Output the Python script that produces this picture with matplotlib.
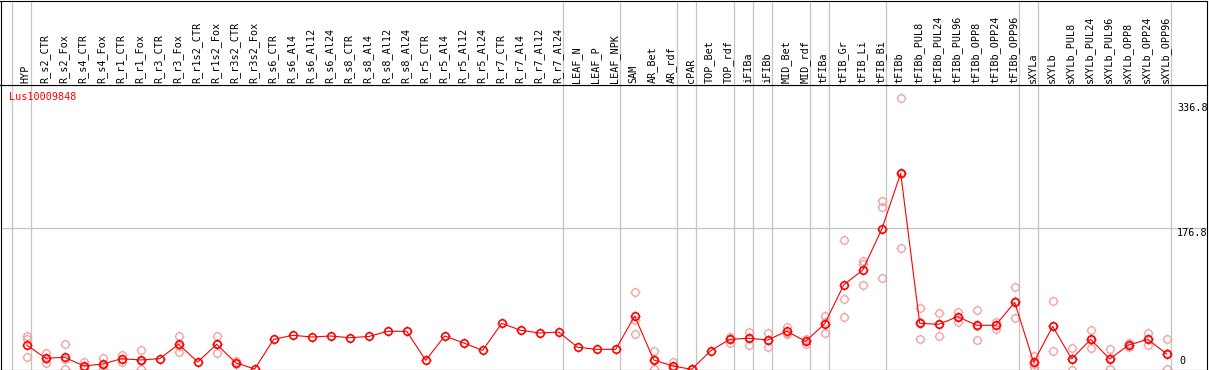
import matplotlib
matplotlib.use("Agg")
import matplotlib.pyplot as plt
from matplotlib.path import Path
import numpy as np

categories = ["HYP", "R_s2_CTR", "R_s2_Fox", "R_s4_CTR", "R_s4_Fox", "R_r1_CTR", "R_r1_Fox",
              "R_r3_CTR", "R_r3_Fox", "R_r1s2_CTR", "R_r1s2_Fox", "R_r3s2_CTR", "R_r3s2_Fox",
              "R_s6_CTR", "R_s6_Al4", "R_s6_Al12", "R_s6_Al24", "R_s8_CTR", "R_s8_Al4",
              "R_s8_Al12", "R_s8_Al24", "R_r5_CTR", "R_r5_Al4", "R_r5_Al12", "R_r5_Al24",
              "R_r7_CTR", "R_r7_Al4", "R_r7_Al12", "R_r7_Al24", "LEAF_N", "LEAF_P", "LEAF_NPK",
              "SAM", "AR_Bet", "AR_rdf", "cPAR", "TOP_Bet", "TOP_rdf", "iFIBa", "iFIBb",
              "MID_Bet", "MID_rdf", "tFIBa", "tFIB_Gr", "tFIB_Li", "tFIB_Bi", "tFIBb",
              "tFIBb_PUL8", "tFIBb_PUL24", "tFIBb_PUL96", "tFIBb_OPP8", "tFIBb_OPP24",
              "tFIBb_OPP96", "sXYLa", "sXYLb", "sXYLb_PUL8", "sXYLb_PUL24", "sXYLb_PUL96",
              "sXYLb_OPP8", "sXYLb_OPP24", "sXYLb_OPP96"]

group_sizes = [1, 28, 3, 3, 1, 2, 1, 1, 2, 1, 3, 7, 1, 7]

means = [33.2, 16.9, 18.1, 7.4, 9.8, 16.4, 14.8, 16.4, 34.1, 12.3, 34.1, 11.4, 3.7,
         40.2, 45.2, 43.1, 44.3, 42.2, 43.7, 50.1, 50.1, 14.4, 44.3, 35.7, 26.7,
         59.9, 51.3, 48.0, 49.2, 30.4, 27.9, 27.9,
         68.9, 14.8, 7.4, 3.3, 26.2, 40.2, 41.5, 39.4, 50.1, 37.8, 59.4,
         107.1, 125.5, 175.6, 244.6, 59.9, 58.7, 68.1, 57.5, 57.5, 85.8,
         11.9, 56.2, 16.0, 40.2, 16.0, 33.2, 40.2, 22.2]

replicates = [[44.7, 40.2, 18.1], [23.8, 11.4, 15.5], [34.5, 3.7, 16.1], [12.3, 5.0, 5.0],
              [16.9, 3.7, 8.8], [20.9, 12.7, 15.6], [26.7, 3.7, 14.0], [],
              [44.7, 25.0, 32.6], [], [44.7, 23.0, 34.6], [9.8, 13.0], [],
              [], [], [], [], [], [], [], [], [], [], [], [], [], [], [], [],
              [], [], [],
              [98.1, 64.0, 46.4], [25.5, 3.3, 15.5], [12.3, 5.0, 5.0], [3.3, 3.3], [],
              [43.4, 36.1, 41.0], [49.2, 33.6, 41.7], [48.0, 30.4, 39.8],
              [55.0, 46.8, 48.5], [41.0, 34.5, 37.9], [68.9, 47.6, 61.7],
              [162.5, 89.5, 67.3], [136.2, 107.4, 132.9], [210.5, 203.1, 115.3],
              [336.8, 153.0, 243.9], [78.4, 40.2, 61.1], [72.2, 44.7, 59.2],
              [74.2, 61.9, 68.2], [76.3, 39.0, 57.2], [61.9, 53.3, 57.3],
              [104.2, 66.1, 87.1], [19.7, 6.5, 9.5], [87.0, 25.5, 56.1],
              [29.2, 2.5, 16.3], [51.3, 29.5, 39.8], [27.9, 3.3, 16.8],
              [35.4, 31.0, 33.2], [47.6, 32.9, 40.1], [40.2, 3.3, 23.1]]

gene = "Lus10009848"
ytick_vals = [336.8, 176.8, 0]

# ---- figure geometry ----
W, H = 1209, 370
DPI = 100
fig = plt.figure(figsize=(W / DPI, H / DPI), dpi=DPI)
FONT = "DejaVu Sans Mono"
FS = 7.3
GRAY = "#c4c4c4"
RED = "#ff0000"
PINK = "#f0a0a0"

def fx(px):
    return px / W

def fy(py):
    return 1 - py / H

left_px, right_px = 0.5, 1207.0
head_top, head_bot = 0.5, 85.0
plot_bot = 369.5

ax = fig.add_axes([fx(left_px), fy(plot_bot), fx(right_px - left_px), (plot_bot - head_bot) / H])
hax = fig.add_axes([fx(left_px), fy(head_bot), fx(right_px - left_px), (head_bot - head_top) / H],
                   sharex=ax)

x0_px, step_px = 26.7, 19.0
xmin = (left_px - x0_px) / step_px
xmax = (right_px - x0_px) / step_px
ax.set_xlim(xmin, xmax)

def pix_to_val(py):
    return (372.0 - py) / 0.8125

ax.set_ylim(pix_to_val(plot_bot), pix_to_val(head_bot))
hax.set_ylim(0, 1)

for a in (ax, hax):
    a.set_xticks([])
    a.set_yticks([])
    for s in a.spines.values():
        s.set_linewidth(0.8)
        s.set_color("black")

seps = [-1] + list(np.cumsum(group_sizes) - 1)
for k in seps:
    for a in (ax, hax):
        a.axvline(k + 4 / 19, color=GRAY, lw=0.9, zorder=1)

ax.axhline(ytick_vals[1], color=GRAY, lw=0.9, zorder=1)

# small tick marks around the circle markers
TK = 1.3
tick_verts = [(0, 1), (0, TK), (0, -1), (0, -TK), (1, 0), (TK, 0), (-1, 0), (-TK, 0)]
tick_codes = [Path.MOVETO, Path.LINETO] * 4
tick_path = Path(tick_verts, tick_codes)
CS = 5.4  # circle diameter (pt)

xs = np.arange(len(categories))
for i, r in enumerate(replicates):
    if r:
        ax.plot([i] * len(r), r, linestyle="none", marker="o", markersize=CS,
                markerfacecolor="none", markeredgecolor=PINK, markeredgewidth=0.95, zorder=2)
        ax.plot([i] * len(r), r, linestyle="none", marker=tick_path, markersize=CS * TK,
                markerfacecolor="none", markeredgecolor=PINK, markeredgewidth=0.7, zorder=2)

ax.plot(xs, means, color=RED, lw=0.8, zorder=3)
ax.plot(xs, means, linestyle="none", marker="o", markersize=CS,
        markerfacecolor="none", markeredgecolor=RED, markeredgewidth=1.2, zorder=4)
ax.plot(xs, means, linestyle="none", marker=tick_path, markersize=CS * TK,
        markerfacecolor="none", markeredgecolor=RED, markeredgewidth=0.8, zorder=4)

for i, c in enumerate(categories):
    hax.text(i - 0.05, (head_bot - 83.3) / (head_bot - head_top), c, rotation=90,
             ha="center", va="bottom", fontsize=FS, family=FONT, color="black")

fig.text(fx(9), fy(92.5), gene, color=RED, fontsize=FS, family=FONT, ha="left", va="top")

fig.text(fx(1177), fy(103.3), f"{ytick_vals[0]:g}", fontsize=FS, family=FONT, ha="left", va="top")
fig.text(fx(1177), fy(227.7), f"{ytick_vals[1]:g}", fontsize=FS, family=FONT, ha="left", va="top")
fig.text(fx(1179), fy(366.0), f"{ytick_vals[2]:g}", fontsize=FS, family=FONT, ha="left", va="bottom")

fig.savefig("out.png", dpi=DPI)
